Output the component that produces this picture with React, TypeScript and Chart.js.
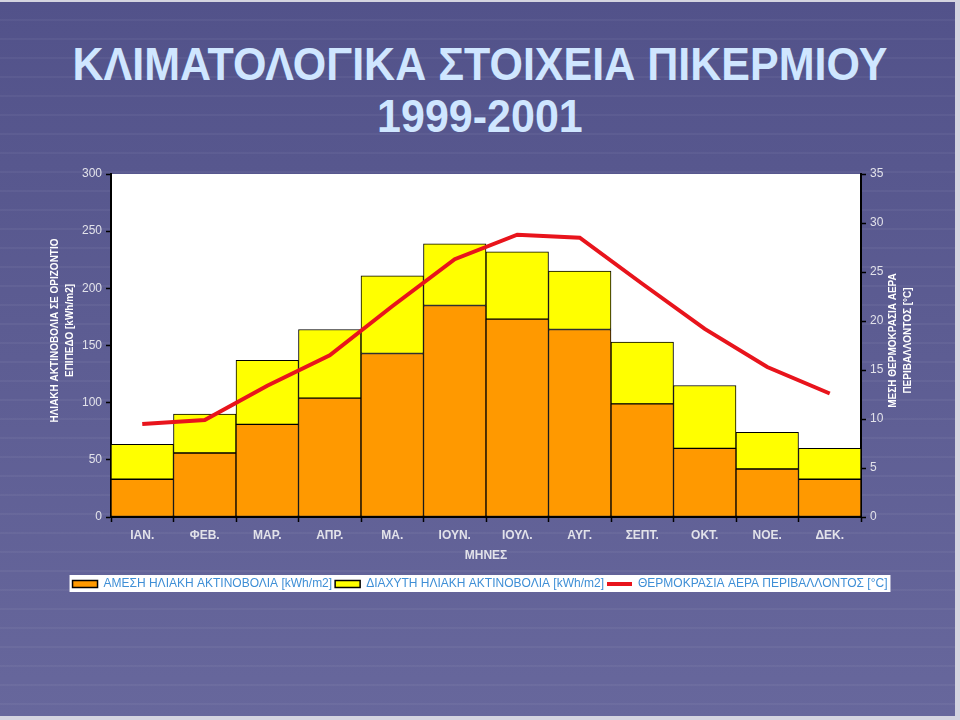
import React, { useEffect, useRef } from "react";
import { Chart, registerables } from "chart.js";

Chart.register(...registerables);

const months = ["ΙΑΝ.", "ΦΕΒ.", "ΜΑΡ.", "ΑΠΡ.", "ΜΑ.", "ΙΟΥΝ.", "ΙΟΥΛ.", "ΑΥΓ.", "ΣΕΠΤ.", "ΟΚΤ.", "ΝΟΕ.", "ΔΕΚ."];
const directRadiation = [33, 56, 81, 104, 143, 185, 173, 164, 99, 60, 42, 33];
const diffuseRadiation = [30.5, 34, 56, 60, 68, 54, 59, 51, 54, 55, 32, 27];
const airTemperature = [9.5, 9.9, 13.4, 16.5, 21.5, 26.3, 28.8, 28.5, 23.8, 19.2, 15.3, 12.6];

const seriesNames = [
  "ΑΜΕΣΗ ΗΛΙΑΚΗ ΑΚΤΙΝΟΒΟΛΙΑ [kWh/m2]",
  "ΔΙΑΧΥΤΗ ΗΛΙΑΚΗ ΑΚΤΙΝΟΒΟΛΙΑ [kWh/m2]",
  "ΘΕΡΜΟΚΡΑΣΙΑ ΑΕΡΑ ΠΕΡΙΒΑΛΛΟΝΤΟΣ [°C]",
];
const titleLines = ["ΚΛΙΜΑΤΟΛΟΓΙΚΑ ΣΤΟΙΧΕΙΑ ΠΙΚΕΡΜΙΟΥ", "1999-2001"];
const xAxisTitle = "ΜΗΝΕΣ";
const leftAxisTitle = ["ΗΛΙΑΚΗ ΑΚΤΙΝΟΒΟΛΙΑ ΣΕ ΟΡΙΖΟΝΤΙΟ", "ΕΠΙΠΕΔΟ [kWh/m2]"];
const rightAxisTitle = ["ΜΕΣΗ ΘΕΡΜΟΚΡΑΣΙΑ ΑΕΡΑ", "ΠΕΡΙΒΑΛΛΟΝΤΟΣ [°C]"];

const SANS = "'Liberation Sans', Arial, sans-serif";
const ORANGE = "#ff9900";
const YELLOW = "#ffff00";
const RED = "#e8141c";
const TICK = "#e2e2ea";
const LEGEND_TEXT = "#3f8fd6";

function drawVerticalLines(ctx: CanvasRenderingContext2D, lines: string[], xs: number[], cy: number) {
  ctx.save();
  ctx.fillStyle = "#ffffff";
  ctx.font = `bold 10px ${SANS}`;
  ctx.textAlign = "center";
  ctx.textBaseline = "middle";
  lines.forEach((t, i) => {
    ctx.save();
    ctx.translate(xs[i], cy);
    ctx.rotate(-Math.PI / 2);
    ctx.fillText(t, 0, 0);
    ctx.restore();
  });
  ctx.restore();
}

const decorPlugin = {
  id: "decor",
  beforeDraw(chart: any) {
    const { ctx, chartArea } = chart;
    ctx.save();
    ctx.fillStyle = "#ffffff";
    ctx.fillRect(chartArea.left, chartArea.top, chartArea.right - chartArea.left, chartArea.bottom - chartArea.top);
    const boxes = chart.legend && chart.legend.legendHitBoxes;
    if (boxes && boxes.length) {
      const l = Math.min(...boxes.map((b: any) => b.left));
      const r = Math.max(...boxes.map((b: any) => b.left + b.width));
      const t = Math.min(...boxes.map((b: any) => b.top));
      const bt = Math.max(...boxes.map((b: any) => b.top + b.height));
      ctx.fillRect(l - 3, t - 3, r - l + 6, bt - t + 5);
    }
    ctx.restore();
  },
  afterDraw(chart: any) {
    const { ctx, scales } = chart;
    const yl = scales.y;
    const yr = scales.y1;
    drawVerticalLines(ctx, leftAxisTitle, [yl.left + 55, yl.left + 70], (yl.top + yl.bottom) / 2 - 15);
    drawVerticalLines(ctx, rightAxisTitle, [yr.left + 32, yr.left + 47], (yr.top + yr.bottom) / 2 - 5);
  },
};

export default function App() {
  const ref = useRef<HTMLCanvasElement | null>(null);

  useEffect(() => {
    if (!ref.current) return;
    const tickGrid = {
      display: true,
      drawOnChartArea: false,
      drawTicks: true,
      tickLength: 5,
      tickWidth: 1.5,
      color: "#000000",
    };
    const chart = new Chart(ref.current, {
      type: "bar",
      data: {
        labels: months,
        datasets: [
          {
            type: "line",
            label: seriesNames[2],
            data: airTemperature,
            yAxisID: "y1",
            borderColor: RED,
            backgroundColor: RED,
            borderWidth: 4,
            pointRadius: 0,
            tension: 0,
            order: 0,
          } as any,
          {
            label: seriesNames[0],
            data: directRadiation,
            backgroundColor: ORANGE,
            borderColor: "#000000",
            borderWidth: 1,
            borderSkipped: false,
            barPercentage: 1,
            categoryPercentage: 1,
            yAxisID: "y",
            order: 1,
          },
          {
            label: seriesNames[1],
            data: diffuseRadiation,
            backgroundColor: YELLOW,
            borderColor: "#000000",
            borderWidth: 1,
            borderSkipped: false,
            barPercentage: 1,
            categoryPercentage: 1,
            yAxisID: "y",
            order: 1,
          },
        ],
      },
      options: {
        responsive: false,
        animation: false,
        layout: { padding: { left: 0, right: 0, top: 174, bottom: 120 } },
        plugins: {
          title: { display: false },
          tooltip: { enabled: false },
          legend: {
            position: "bottom",
            labels: {
              usePointStyle: true,
              pointStyleWidth: 25,
              boxHeight: 7,
              padding: 3,
              color: LEGEND_TEXT,
              font: { family: SANS, size: 12 },
              sort: (a: any, b: any) => {
                const order = [1, 2, 0];
                return order.indexOf(a.datasetIndex) - order.indexOf(b.datasetIndex);
              },
              generateLabels: (c: any) => {
                const items = Chart.defaults.plugins.legend.labels.generateLabels(c);
                return items.map((it: any) => {
                  const isLine = it.datasetIndex === 0;
                  return {
                    ...it,
                    pointStyle: isLine ? "line" : "rect",
                    lineWidth: isLine ? 4 : 1.5,
                    strokeStyle: isLine ? RED : "#000000",
                    fontColor: LEGEND_TEXT,
                  };
                });
              },
            },
          },
        },
        scales: {
          x: {
            stacked: true,
            offset: true,
            grid: { ...tickGrid, offset: true },
            border: { display: true, color: "#000000", width: 2 },
            ticks: { color: TICK, font: { family: SANS, size: 12, weight: "bold" }, padding: 6, maxRotation: 0 },
            title: {
              display: true,
              text: xAxisTitle,
              color: TICK,
              font: { family: SANS, size: 12, weight: "bold" },
              padding: { top: 0, bottom: 12 },
            },
            afterFit: (s: any) => {
              s.height = 58;
            },
          },
          y: {
            stacked: true,
            position: "left",
            min: 0,
            max: 300,
            grid: tickGrid,
            border: { display: true, color: "#000000", width: 2 },
            ticks: { stepSize: 50, color: TICK, font: { family: SANS, size: 12 }, padding: 4 },
            afterFit: (s: any) => {
              s.width = 111;
            },
          },
          y1: {
            position: "right",
            min: 0,
            max: 35,
            grid: tickGrid,
            border: { display: true, color: "#000000", width: 2 },
            ticks: { stepSize: 5, color: TICK, font: { family: SANS, size: 12 }, padding: 4 },
            afterFit: (s: any) => {
              s.width = 99;
            },
          },
        },
      },
      plugins: [decorPlugin],
    });
    return () => chart.destroy();
  }, []);

  const titleStyle: React.CSSProperties = {
    position: "absolute",
    left: 0,
    width: 960,
    textAlign: "center",
    fontFamily: SANS,
    fontWeight: "bold",
    fontSize: 46,
    lineHeight: "52px",
    color: "#cfe6ff",
    whiteSpace: "nowrap",
    transform: "scaleX(0.935)",
    transformOrigin: "479px 0",
  };

  return (
    <div
      style={{
        position: "absolute",
        left: 0,
        top: 0,
        width: 960,
        height: 720,
        overflow: "hidden",
        background: "#d4d4e0",
      }}
    >
      <div
        style={{
          position: "absolute",
          left: 0,
          top: 2,
          width: 955,
          height: 714,
          background:
            "repeating-linear-gradient(to bottom, rgba(255,255,255,0) 0px, rgba(255,255,255,0) 17px, rgba(255,255,255,0.045) 17px, rgba(255,255,255,0.045) 19px), linear-gradient(to bottom, #52528a, #5c5c92 45%, #67679c)",
        }}
      />
      <div style={{ ...titleStyle, top: 38 }}>{titleLines[0]}</div>
      <div style={{ ...titleStyle, top: 90 }}>{titleLines[1]}</div>
      <canvas
        ref={ref}
        width={960}
        height={720}
        style={{ display: "block", position: "absolute", left: 0, top: 0 }}
      />
    </div>
  );
}
